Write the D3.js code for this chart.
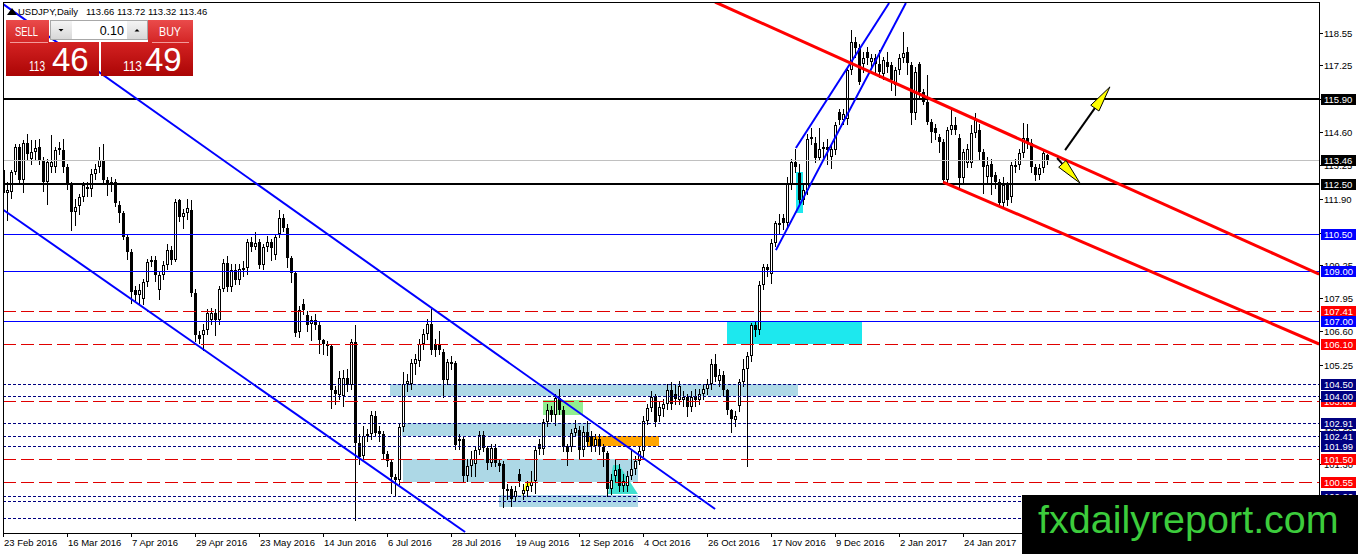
<!DOCTYPE html>
<html>
<head>
<meta charset="utf-8">
<script src="https://cdn.jsdelivr.net/npm/d3@7"></script>
<style>
html, body { margin: 0; padding: 0; background: #fff; }
svg { display: block; font-family: "Liberation Sans", Arial, sans-serif; }
</style>
</head>
<body>
<svg id="chart" width="1358" height="554"></svg>
<script>
// --- data: [open, high, low, close] per bar ---
const candles = [
[113.06,113.26,111.78,112.14],[112.14,112.60,111.06,112.26],[112.18,113.06,111.94,112.98],[112.98,114.10,112.90,113.98],
[113.98,114.10,112.50,112.66],[112.66,114.26,112.18,114.14],[114.14,114.50,113.50,113.70],[113.50,114.26,113.30,113.78],
[113.80,114.26,113.50,113.95],[114.00,114.30,113.30,113.46],[113.46,113.60,112.20,112.58],[112.58,113.50,111.70,113.40],
[113.20,114.46,113.00,113.40],[113.20,114.00,113.00,113.86],[113.86,114.20,113.70,113.95],[113.86,114.30,113.00,113.20],
[113.20,113.30,112.30,112.54],[112.54,112.60,110.66,111.38],[111.38,111.90,110.86,111.58],[111.60,112.10,111.30,111.98],
[111.98,112.60,111.80,112.46],[112.30,112.60,112.00,112.40],[112.30,113.10,112.00,112.90],[112.90,113.30,112.70,113.10],
[113.20,114.00,113.00,113.46],[113.46,114.10,112.50,112.66],[112.66,112.80,112.06,112.46],[112.60,112.80,112.20,112.46],
[112.58,112.70,111.60,111.74],[111.66,111.80,110.96,111.34],[111.34,111.40,110.30,110.38],[110.38,110.50,109.50,109.78],
[109.78,109.90,107.73,108.17],[108.25,108.40,107.80,108.05],[108.05,108.50,107.70,108.25],[107.90,108.70,107.70,108.57],
[108.57,109.50,108.40,109.38],[109.38,109.60,109.20,109.46],[109.46,109.60,108.60,108.85],[108.25,109.00,107.90,108.85],
[108.85,109.40,108.70,109.26],[109.26,110.10,109.10,109.86],[109.86,110.00,109.30,109.46],[109.46,111.90,109.40,111.78],
[111.86,111.90,111.00,111.18],[111.18,111.50,110.72,111.34],[111.34,111.90,111.10,111.54],[111.46,111.86,108.00,108.13],
[108.13,108.30,106.20,106.45],[106.45,106.60,106.13,106.30],[106.45,106.90,105.85,106.65],[106.65,107.50,106.50,107.33],
[107.05,107.55,106.90,107.33],[107.33,107.50,106.45,107.05],[107.05,108.40,106.90,108.30],[108.30,109.50,108.20,109.34],
[109.34,109.60,108.20,108.37],[108.37,109.30,108.20,109.05],[109.05,109.30,108.50,108.65],[108.65,109.30,108.50,109.10],
[109.05,109.40,108.80,109.15],[109.15,110.30,108.90,110.18],[110.18,110.38,109.80,109.98],[109.98,110.58,109.90,110.15],
[110.18,110.30,109.14,109.26],[109.26,110.10,109.10,109.98],[109.98,110.40,109.80,110.18],[110.18,110.30,109.45,109.95],
[109.66,110.50,109.50,110.38],[110.50,111.46,110.38,111.14],[111.14,111.30,110.60,110.74],[110.74,110.90,109.17,109.54],
[109.54,109.60,108.57,108.94],[108.94,109.00,106.40,106.53],[106.57,107.60,106.37,107.45],[107.70,107.90,107.30,107.45],
[107.25,107.40,106.60,106.85],[106.90,107.20,106.25,107.05],[107.05,107.30,106.70,106.85],[106.85,107.00,105.73,106.25],
[106.25,106.30,105.70,106.10],[106.10,106.20,105.65,106.00],[106.00,106.10,103.52,104.25],[104.25,104.40,103.70,104.10],
[104.05,105.00,103.90,104.73],[104.00,105.05,103.60,104.73],[104.73,105.10,104.20,104.45],[104.45,106.30,104.30,106.17],
[106.17,106.84,99.04,102.12],[102.12,102.50,101.30,101.56],[101.60,102.80,101.50,102.40],[102.40,102.70,102.20,102.50],
[102.50,103.40,102.30,103.24],[103.20,103.42,102.40,102.52],[102.60,102.80,102.20,102.50],[102.50,102.60,101.50,101.68],
[101.68,101.80,101.20,101.40],[101.36,101.50,100.12,100.76],[100.76,100.90,100.04,100.64],[100.64,102.90,100.50,102.76],
[102.76,104.97,102.60,104.50],[104.50,104.90,104.20,104.60],[104.50,105.50,104.30,105.33],[105.30,105.70,104.90,105.50],
[105.40,106.30,105.20,106.10],[106.10,106.70,105.90,106.50],[106.50,107.10,106.30,106.90],[106.90,107.50,105.70,105.85],
[106.10,106.30,105.60,105.85],[106.10,106.60,105.70,105.85],[105.77,105.90,103.97,104.65],[104.65,105.50,104.50,105.37],
[105.37,105.60,105.10,105.30],[105.33,105.40,101.90,102.04],[102.30,102.50,101.90,102.20],[102.30,102.40,100.60,100.80],
[100.80,101.50,100.60,101.20],[101.20,101.80,100.80,101.50],[101.30,101.95,100.80,101.84],[101.84,102.60,101.70,102.44],
[102.44,102.60,101.80,101.92],[101.92,102.00,101.10,101.32],[101.32,102.10,101.20,101.92],[101.92,102.10,101.20,101.32],
[101.32,101.50,101.00,101.20],[101.30,101.40,99.56,100.30],[100.30,100.50,99.90,100.20],[100.30,100.40,99.60,99.90],
[99.95,100.40,99.80,100.20],[100.90,101.10,100.40,100.60],[100.10,100.50,99.90,100.25],[100.20,100.60,100.00,100.40],
[100.40,101.00,100.20,100.55],[100.60,102.00,100.12,101.84],[102.10,102.30,101.70,101.90],[101.90,103.10,101.70,102.96],
[102.96,103.70,102.80,103.45],[103.45,103.60,103.00,103.25],[103.25,104.10,102.85,103.93],[103.93,104.30,103.30,103.45],
[103.45,103.60,101.80,101.96],[102.00,102.10,101.24,101.76],[101.96,102.70,101.80,102.52],[102.52,103.04,102.40,102.72],
[102.64,102.80,101.52,101.84],[101.84,102.80,101.60,102.56],[102.56,103.00,102.00,102.16],[102.40,102.60,101.80,102.00],
[102.00,102.50,101.80,102.30],[102.30,102.50,101.70,101.96],[101.96,102.10,101.20,101.76],[101.72,101.80,100.00,100.30],
[100.30,100.90,100.10,100.64],[100.80,101.50,100.60,101.04],[101.10,101.30,100.20,100.40],[100.40,100.90,100.20,100.60],
[100.40,101.00,100.20,100.80],[100.80,101.84,100.70,101.10],[101.10,101.60,100.90,101.40],[101.40,102.00,101.30,101.80],
[101.80,103.20,101.60,103.00],[103.00,103.70,102.90,103.52],[103.52,104.20,103.40,103.97],[104.00,104.10,102.80,102.97],
[103.20,103.80,103.00,103.55],[103.50,103.90,103.20,103.70],[103.70,104.50,103.50,104.25],[104.25,104.55,103.50,103.70],
[104.10,104.50,103.70,103.90],[103.85,104.60,103.70,104.40],[103.85,104.20,103.60,103.97],[103.97,104.10,103.20,103.55],
[103.55,104.20,103.40,103.97],[104.00,104.30,103.60,103.85],[103.85,104.30,103.70,104.10],[104.10,104.50,103.90,104.30],
[104.30,104.70,104.10,104.50],[104.50,105.50,104.30,105.30],[105.30,105.70,104.60,104.75],[104.60,105.10,104.40,104.85],
[104.85,105.00,104.00,104.25],[104.25,104.30,103.30,103.45],[103.45,103.50,102.56,103.10],[103.05,103.40,102.80,103.20],
[103.60,104.70,103.40,104.55],[104.55,105.50,104.40,105.10],[105.10,105.75,101.20,105.60],[105.60,106.95,105.40,106.85],
[106.85,107.00,106.40,106.65],[106.65,108.60,106.50,108.45],[108.45,109.30,108.30,109.16],[109.16,109.30,108.80,109.05],
[108.90,110.30,108.54,110.12],[110.12,111.00,110.00,110.94],[110.94,111.30,110.50,110.86],[111.14,111.30,110.70,110.94],
[110.94,112.80,110.80,112.50],[112.50,113.50,112.30,113.38],[113.38,113.90,113.00,113.18],[112.94,113.30,111.70,111.86],
[111.86,112.50,111.70,112.26],[112.26,114.50,112.10,114.30],[114.30,114.75,114.10,114.40],[114.14,114.40,113.40,113.54],
[113.54,114.75,113.46,113.90],[113.90,114.20,113.60,114.00],[114.00,114.30,113.30,113.85],[113.60,114.10,113.14,113.90],
[113.85,115.00,113.70,114.86],[115.38,115.50,114.90,115.06],[115.06,115.50,114.90,115.30],[115.10,117.20,114.90,117.07],
[117.07,118.66,116.90,118.19],[118.19,118.40,117.60,117.95],[117.95,118.10,116.50,116.60],[117.30,117.80,117.00,117.55],
[117.80,118.00,117.30,117.55],[117.40,117.70,117.20,117.55],[117.55,117.70,117.00,117.30],[117.30,117.87,116.80,117.00],
[116.90,117.60,116.70,117.47],[117.40,117.80,117.00,117.20],[117.27,117.40,116.26,116.67],[116.46,117.20,116.06,117.07],
[117.07,117.70,116.90,117.55],[117.55,118.60,117.40,117.75],[117.80,118.00,116.90,117.35],[117.27,117.40,114.90,115.34],
[115.34,117.20,115.10,116.99],[117.30,117.40,115.90,116.20],[116.20,116.30,115.70,115.80],[115.78,116.87,114.90,114.98],
[114.98,115.10,114.18,114.58],[114.74,114.90,114.30,114.54],[114.38,114.50,113.78,114.18],[114.18,114.30,112.54,112.66],
[112.66,114.80,112.50,114.66],[114.66,115.54,114.50,114.86],[114.86,115.20,114.50,114.66],[114.34,114.50,112.40,112.74],
[112.74,113.90,112.60,113.78],[113.35,114.10,113.20,113.90],[113.35,114.86,113.20,114.54],[114.54,115.34,114.40,115.06],
[114.66,114.90,113.46,113.78],[113.78,113.90,112.14,113.18],[112.78,113.58,112.60,113.26],[113.30,113.50,112.10,112.78],
[112.86,113.00,112.34,112.58],[112.58,112.70,111.66,111.74],[111.74,112.80,111.60,112.46],[112.46,112.60,111.66,111.86],
[111.98,113.40,111.78,113.26],[113.20,113.50,113.00,113.26],[113.26,113.90,113.10,113.74],[113.74,114.93,113.60,114.34],
[114.34,114.90,113.95,114.14],[114.14,114.30,113.00,113.18],[113.18,113.30,112.66,112.86],[112.86,113.30,112.70,113.14],
[113.14,113.90,113.00,113.74],[113.66,113.72,113.32,113.46]
];

const dateLabels = ["23 Feb 2016","16 Mar 2016","7 Apr 2016","29 Apr 2016","23 May 2016","14 Jun 2016",
  "6 Jul 2016","28 Jul 2016","19 Aug 2016","12 Sep 2016","4 Oct 2016","26 Oct 2016",
  "17 Nov 2016","9 Dec 2016","2 Jan 2017","24 Jan 2017"];
const dateBars = [0,16,32,48,64,80,96,112,128,144,160,176,192,208,224,240];
const priceTicks = [118.55,117.25,115.90,114.60,113.25,111.90,110.55,109.25,107.95,106.60,105.25,103.90,102.60,101.30,99.95];

// horizontal levels
const blackLevels = [115.90, 112.50];
const blueLevels = [110.50, 109.00, 107.00];
const redLevels = [107.41, 106.10, 103.80, 101.50, 100.55];
const navyLevels = [104.50, 104.00, 102.91, 102.41, 101.99, 100.00, 99.80, 99.10];
const bidPrice = 113.46;

// zones: [fromBar, toBar, highPrice, lowPrice]
const lightBlueZones = [[96.5,198.7,104.50,104.00],[99.6,146.6,102.91,102.41],[99.9,158.6,101.50,100.55],[123.9,158.6,100.05,99.55]];
const cyanZones = [[180.9,214.6,107.00,106.10],[198.1,199.9,112.98,111.34]];
const greenZones = [[134.9,144.9,103.85,103.25]];
const orangeZones = [[145.9,163.9,102.41,101.99]];
const yellowTriangle = [[129.6,100.0],[130.6,100.55],[132.4,100.6]];
const turquoiseShape = [[151.1,100.08],[152.4,101.24],[153.9,101.24],[158.6,100.08]];

// trend lines: [bar1, price1, bar2, price2]
const blueLines = [[0,119.70,177.9,99.48],[0,111.46,115.4,98.56],[193.1,109.85,225.6,119.75],[198.1,113.94,221.4,119.75]];
const redLines = [[177.9,119.79,328.9,108.89],[234.9,112.58,328.9,106.09]];
const arrows = [[265.4,113.86,276.6,116.39],[263.4,113.54,269.1,112.54]];

// --- setup ---
const svg = d3.select("#chart");
const plot = {left: 3, top: 2, right: 1319, bottom: 533};
const x = d3.scaleLinear().domain([0, 1]).range([3.5, 7.5]);        // 4 px per bar
const y = d3.scaleLinear().domain([99.0, 118.55]).range([520.97, 33]);

svg.append("rect").attr("width", 1358).attr("height", 554).attr("fill", "#fff");

const defs = svg.append("defs");
defs.append("clipPath").attr("id", "plotClip")
  .append("rect").attr("x", plot.left + 1).attr("y", plot.top + 1)
  .attr("width", plot.right - plot.left - 1).attr("height", plot.bottom - plot.top - 1);

function grad(id, c1, c2) {
  const g = defs.append("linearGradient").attr("id", id)
    .attr("x1", 0).attr("y1", 0).attr("x2", 0).attr("y2", 1);
  g.append("stop").attr("offset", "0%").attr("stop-color", c1);
  g.append("stop").attr("offset", "100%").attr("stop-color", c2);
}
grad("topRed", "#ea4b4b", "#d42626");
grad("numRed", "#d42222", "#ab0505");
grad("btnGrey", "#f4f4f4", "#d8d8d8");

const g = svg.append("g").attr("clip-path", "url(#plotClip)");

// zones (background)
const zoneG = g.append("g").attr("shape-rendering", "crispEdges");
function drawZones(list, color) {
  list.forEach(z => {
    zoneG.append("rect")
      .attr("x", x(z[0])).attr("y", y(z[2]))
      .attr("width", x(z[1]) - x(z[0])).attr("height", y(z[3]) - y(z[2]))
      .attr("fill", color);
  });
}
drawZones(lightBlueZones, "#add8e6");
drawZones(cyanZones, "#1de8ee");
drawZones(greenZones, "#90ee90");
drawZones(orangeZones, "#ffa500");

const polyLine = d3.line().x(d => x(d[0])).y(d => y(d[1]));
g.append("path").attr("d", polyLine(yellowTriangle) + "Z").attr("fill", "#ffff00");
g.append("path").attr("d", polyLine(turquoiseShape) + "Z").attr("fill", "#40e0d0");

// candles
const candleG = g.append("g").attr("shape-rendering", "crispEdges");
candles.forEach((c, i) => {
  const [o, h, l, cl] = c;
  const cx = x(i);
  candleG.append("line")
    .attr("x1", cx).attr("x2", cx)
    .attr("y1", Math.round(y(h))).attr("y2", Math.round(y(l)) + 1)
    .attr("stroke", "#000").attr("stroke-width", 1);
  const top = Math.round(y(Math.max(o, cl)));
  const bot = Math.round(y(Math.min(o, cl)));
  if (cl < o) {
    candleG.append("rect")
      .attr("x", cx - 1.5).attr("y", top)
      .attr("width", 3).attr("height", Math.max(1, bot - top))
      .attr("fill", "#000");
  } else {
    candleG.append("rect")
      .attr("x", cx - 1).attr("y", top + 0.5)
      .attr("width", 2).attr("height", Math.max(0, bot - top - 1))
      .attr("fill", "#fff").attr("stroke", "#000").attr("stroke-width", 1);
  }
});

// horizontal levels
const levelG = g.append("g").attr("shape-rendering", "crispEdges");
function hLine(p, color, width, dash) {
  const yy = Math.round(y(p)) + (width % 2 ? 0.5 : 0);
  levelG.append("line")
    .attr("x1", plot.left).attr("x2", plot.right)
    .attr("y1", yy).attr("y2", yy)
    .attr("stroke", color).attr("stroke-width", width)
    .attr("stroke-dasharray", dash || null);
}
hLine(bidPrice, "#c0c0c0", 1);
navyLevels.forEach(p => hLine(p, "#000080", 1, "3,2"));
redLevels.forEach(p => hLine(p, "#e00000", 1, "13,5"));
blueLevels.forEach(p => hLine(p, "#0000ff", 1));
blackLevels.forEach(p => hLine(p, "#000", 2));

// trend lines
const trendG = g.append("g");
blueLines.forEach(t => {
  trendG.append("line")
    .attr("x1", x(t[0])).attr("y1", y(t[1])).attr("x2", x(t[2])).attr("y2", y(t[3]))
    .attr("stroke", "#0000ff").attr("stroke-width", 2);
});
redLines.forEach(t => {
  trendG.append("line")
    .attr("x1", x(t[0])).attr("y1", y(t[1])).attr("x2", x(t[2])).attr("y2", y(t[3]))
    .attr("stroke", "#ff0000").attr("stroke-width", 3);
});

// arrows with yellow heads
arrows.forEach(a => {
  const x1 = x(a[0]), y1 = y(a[1]), x2 = x(a[2]), y2 = y(a[3]);
  const len = Math.hypot(x2 - x1, y2 - y1);
  const ux = (x2 - x1) / len, uy = (y2 - y1) / len;
  const headLen = 26, half = 5;
  const bx = x2 - ux * headLen, by = y2 - uy * headLen;
  trendG.append("line")
    .attr("x1", x1).attr("y1", y1).attr("x2", bx).attr("y2", by)
    .attr("stroke", "#000").attr("stroke-width", 2);
  trendG.append("polygon")
    .attr("points", [[x2, y2], [bx - uy * half, by + ux * half], [bx + uy * half, by - ux * half]].map(p => p.join(",")).join(" "))
    .attr("fill", "#ffff00").attr("stroke", "#000").attr("stroke-width", 1);
});

// frame
const frame = svg.append("g").attr("shape-rendering", "crispEdges");
frame.append("rect")
  .attr("x", plot.left + 0.5).attr("y", plot.top + 0.5)
  .attr("width", plot.right - plot.left).attr("height", plot.bottom - plot.top)
  .attr("fill", "none").attr("stroke", "#000");

// price axis ticks
const axisG = svg.append("g").attr("font-size", "9.5px").attr("fill", "#000");
priceTicks.forEach(p => {
  const yy = Math.round(y(p)) + 0.5;
  axisG.append("line").attr("x1", plot.right).attr("x2", plot.right + 4)
    .attr("y1", yy).attr("y2", yy).attr("stroke", "#000").attr("shape-rendering", "crispEdges");
  axisG.append("text").attr("x", plot.right + 5).attr("y", yy + 3.5).text(p.toFixed(2));
});

// date axis
dateBars.forEach((b, k) => {
  const xx = Math.round(x(b) - 0.5) + 0.5;
  axisG.append("line").attr("x1", xx).attr("x2", xx)
    .attr("y1", plot.bottom).attr("y2", plot.bottom + 4)
    .attr("stroke", "#000").attr("shape-rendering", "crispEdges");
  axisG.append("text").attr("x", xx + 0.5).attr("y", 545.5).text(dateLabels[k]);
});

// level labels on price axis
const tagG = svg.append("g").attr("font-size", "9.5px");
function tag(p, bg) {
  const yy = Math.round(y(p)) + 0.5;
  tagG.append("rect").attr("x", plot.right + 2).attr("y", yy - 5.5)
    .attr("width", 35).attr("height", 11).attr("fill", bg).attr("shape-rendering", "crispEdges");
  tagG.append("text").attr("x", plot.right + 5).attr("y", yy + 3.5)
    .attr("fill", "#fff").text(p.toFixed(2));
}
redLevels.forEach(p => tag(p, "#ff0000"));
navyLevels.forEach(p => tag(p, "#000080"));
blueLevels.forEach(p => tag(p, "#0000ff"));
blackLevels.forEach(p => tag(p, "#000"));
tag(bidPrice, "#000");

// header
const head = svg.append("g");
head.append("polygon").attr("points", "7,15 12,8 17,15").attr("fill", "#000");
head.append("text").attr("x", 18).attr("y", 15).attr("font-size", "9.5px").text("USDJPY,Daily");
head.append("text").attr("x", 86).attr("y", 15).attr("font-size", "9.5px").text("113.66 113.72 113.32 113.46");

// one-click trading panel
const pn = svg.append("g");
pn.append("rect").attr("x", 6).attr("y", 20).attr("width", 43).attr("height", 22).attr("fill", "url(#topRed)");
pn.append("rect").attr("x", 148).attr("y", 20).attr("width", 45).attr("height", 22).attr("fill", "url(#topRed)");
pn.append("rect").attr("x", 6).attr("y", 42).attr("width", 93).attr("height", 34).attr("fill", "url(#numRed)");
pn.append("rect").attr("x", 101).attr("y", 42).attr("width", 92).attr("height", 34).attr("fill", "url(#numRed)");
pn.append("line").attr("x1", 10).attr("x2", 48).attr("y1", 42.5).attr("y2", 42.5).attr("stroke", "#f39a9a");
pn.append("line").attr("x1", 152).attr("x2", 189).attr("y1", 42.5).attr("y2", 42.5).attr("stroke", "#f39a9a");
pn.append("rect").attr("x", 50.5).attr("y", 20.5).attr("width", 97).attr("height", 19)
  .attr("fill", "#fff").attr("stroke", "#a8a8a8").attr("shape-rendering", "crispEdges");
pn.append("rect").attr("x", 51).attr("y", 21).attr("width", 21).attr("height", 18).attr("fill", "url(#btnGrey)");
pn.append("rect").attr("x", 127).attr("y", 21).attr("width", 20).attr("height", 18).attr("fill", "url(#btnGrey)");
pn.append("polygon").attr("points", "58.5,29 63.5,29 61,31.5").attr("fill", "#000");
pn.append("polygon").attr("points", "134.5,31.5 139.5,31.5 137,29").attr("fill", "#000");
pn.append("text").attr("x", 124).attr("y", 35).attr("text-anchor", "end")
  .attr("font-size", "12.5px").attr("fill", "#000").text("0.10");
pn.append("text").attr("x", 15).attr("y", 36).attr("font-size", "12.5px").attr("fill", "#fff")
  .attr("textLength", 23).attr("lengthAdjust", "spacingAndGlyphs").text("SELL");
pn.append("text").attr("x", 159).attr("y", 36).attr("font-size", "12.5px").attr("fill", "#fff")
  .attr("textLength", 22).attr("lengthAdjust", "spacingAndGlyphs").text("BUY");
pn.append("text").attr("x", 29).attr("y", 71).attr("font-size", "15px").attr("fill", "#fff")
  .attr("textLength", 16).attr("lengthAdjust", "spacingAndGlyphs").text("113");
pn.append("text").attr("x", 52).attr("y", 71).attr("font-size", "33px").attr("fill", "#fff").text("46");
pn.append("text").attr("x", 123).attr("y", 71).attr("font-size", "15px").attr("fill", "#fff")
  .attr("textLength", 19).attr("lengthAdjust", "spacingAndGlyphs").text("113");
pn.append("text").attr("x", 145).attr("y", 71).attr("font-size", "33px").attr("fill", "#fff").text("49");

// watermark
svg.append("rect").attr("x", 1022).attr("y", 495).attr("width", 336).attr("height", 59).attr("fill", "#000");
svg.append("text").attr("x", 1038).attr("y", 533).attr("font-size", "39.5px")
  .attr("fill", "#3ccc3c").text("fxdailyreport.com");
</script>
</body>
</html>
